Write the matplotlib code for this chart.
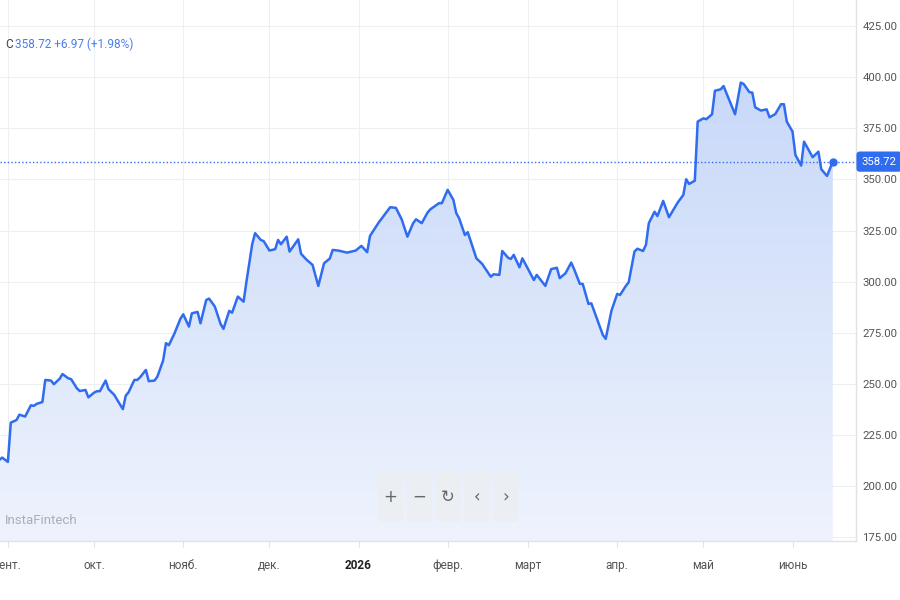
import matplotlib
matplotlib.use('Agg')
import matplotlib.pyplot as plt
import numpy as np
import pandas as pd
from matplotlib.colors import LinearSegmentedColormap
from matplotlib.patches import FancyBboxPatch
from matplotlib.transforms import Bbox

# price path (date, close)
dates = [
    '2025-08-29', '2025-08-30', '2025-09-01', '2025-09-02', '2025-09-04', '2025-09-05',
    '2025-09-07', '2025-09-09', '2025-09-10', '2025-09-11', '2025-09-13', '2025-09-14',
    '2025-09-16', '2025-09-17', '2025-09-19', '2025-09-20', '2025-09-22', '2025-09-23',
    '2025-09-25', '2025-09-26', '2025-09-28', '2025-09-29',
    '2025-10-01', '2025-10-02', '2025-10-03', '2025-10-05', '2025-10-06', '2025-10-08',
    '2025-10-11', '2025-10-12', '2025-10-13', '2025-10-15', '2025-10-16', '2025-10-17',
    '2025-10-19', '2025-10-20', '2025-10-22', '2025-10-23', '2025-10-25', '2025-10-26',
    '2025-10-27', '2025-10-29', '2025-10-31',
    '2025-11-01', '2025-11-03', '2025-11-04', '2025-11-06', '2025-11-07', '2025-11-09',
    '2025-11-10', '2025-11-12', '2025-11-14', '2025-11-15', '2025-11-17', '2025-11-18',
    '2025-11-20', '2025-11-22', '2025-11-23', '2025-11-25', '2025-11-26', '2025-11-28',
    '2025-11-29',
    '2025-12-01', '2025-12-03', '2025-12-04', '2025-12-05', '2025-12-07', '2025-12-08',
    '2025-12-11', '2025-12-12', '2025-12-14', '2025-12-16', '2025-12-18', '2025-12-20',
    '2025-12-22', '2025-12-23', '2025-12-25', '2025-12-28', '2025-12-31',
    '2026-01-02', '2026-01-04', '2026-01-05', '2026-01-08', '2026-01-12', '2026-01-14',
    '2026-01-16', '2026-01-18', '2026-01-20', '2026-01-21', '2026-01-23', '2026-01-25',
    '2026-01-26', '2026-01-29', '2026-01-30',
    '2026-02-01', '2026-02-03', '2026-02-04', '2026-02-05', '2026-02-07', '2026-02-08',
    '2026-02-11', '2026-02-13', '2026-02-16', '2026-02-17', '2026-02-19', '2026-02-20',
    '2026-02-22', '2026-02-23', '2026-02-24', '2026-02-26', '2026-02-27',
    '2026-03-03', '2026-03-04', '2026-03-07', '2026-03-09', '2026-03-11', '2026-03-12',
    '2026-03-14', '2026-03-16', '2026-03-17', '2026-03-19', '2026-03-20', '2026-03-22',
    '2026-03-23', '2026-03-27', '2026-03-28', '2026-03-30',
    '2026-04-01', '2026-04-02', '2026-04-04', '2026-04-05', '2026-04-07', '2026-04-08',
    '2026-04-10', '2026-04-11', '2026-04-12', '2026-04-14', '2026-04-15', '2026-04-17',
    '2026-04-19', '2026-04-21', '2026-04-22', '2026-04-24', '2026-04-25', '2026-04-26',
    '2026-04-28', '2026-04-29',
    '2026-05-01', '2026-05-02', '2026-05-04', '2026-05-05', '2026-05-07', '2026-05-08',
    '2026-05-12', '2026-05-14', '2026-05-15', '2026-05-17', '2026-05-18', '2026-05-19',
    '2026-05-21', '2026-05-23', '2026-05-24', '2026-05-26', '2026-05-28', '2026-05-29',
    '2026-05-30',
    '2026-06-01', '2026-06-02', '2026-06-04', '2026-06-05', '2026-06-08', '2026-06-10',
    '2026-06-11', '2026-06-13', '2026-06-15',
]
prices = [
    212.8, 213.9, 211.8, 231.0, 232.3, 234.9,
    234.0, 239.5, 239.2, 240.2, 241.1, 251.9,
    251.6, 249.8, 252.5, 254.8, 252.7, 252.3,
    247.8, 246.5, 247.0, 243.4,
    245.7, 246.4, 246.4, 251.6, 247.4, 244.6,
    237.6, 244.2, 245.9, 251.9, 251.9, 253.2,
    256.8, 251.3, 251.6, 253.5, 261.4, 269.9,
    268.9, 274.8, 281.8,
    284.0, 278.0, 284.5, 285.2, 279.6, 291.0,
    291.7, 287.8, 279.3, 276.9, 285.7, 284.8,
    292.7, 290.2, 300.0, 318.3, 323.7, 320.4,
    319.8,
    315.2, 315.9, 320.4, 318.3, 322.0, 314.7,
    320.7, 313.6, 310.6, 308.2, 297.9, 309.0,
    311.3, 315.5, 315.2, 314.2, 315.2,
    317.5, 314.4, 322.4, 328.9, 336.4, 336.1,
    330.5, 322.0, 328.6, 330.5, 328.6, 333.8,
    335.4, 338.4, 338.4,
    344.9, 340.0, 333.5, 331.0, 322.8, 324.2,
    311.4, 308.7, 302.4, 303.6, 303.3, 315.0,
    311.7, 311.1, 313.1, 307.0, 311.4,
    300.8, 303.3, 297.9, 306.1, 306.8, 301.7,
    304.1, 309.3, 306.1, 298.9, 298.9, 289.1,
    289.4, 273.9, 272.0, 285.8,
    294.0, 293.5, 297.9, 299.7, 314.7, 316.1,
    315.0, 318.0, 328.6, 334.2, 332.1, 339.5,
    331.5, 336.2, 338.6, 342.4, 350.1, 347.8,
    349.4, 378.3,
    379.9, 379.5, 381.9, 393.4, 394.1, 395.7,
    381.9, 397.4, 396.7, 392.7, 392.5, 385.3,
    383.7, 384.3, 380.4, 382.0, 386.8, 386.8,
    378.3,
    373.4, 362.0, 356.8, 368.5, 360.9, 363.6,
    355.0, 351.7, 358.72,
]

month_ticks = ['2025-09-01', '2025-10-01', '2025-11-01', '2025-12-01', '2026-01-01',
               '2026-02-01', '2026-03-01', '2026-04-01', '2026-05-01', '2026-06-01']
month_labels = ['сент.', 'окт.', 'нояб.', 'дек.', '2026', 'февр.', 'март', 'апр.', 'май', 'июнь']
y_ticks = [175, 200, 225, 250, 275, 300, 325, 350, 375, 400, 425]
change, change_pct = 6.97, 1.98
buttons = ['+', '−', '↻', '‹', '›']

blue = '#2f6cf0'
font = ['Roboto', 'DejaVu Sans']

x = pd.to_datetime(dates)
last = prices[-1]

fig = plt.figure(figsize=(9, 6), dpi=100)
ax = fig.add_axes([0, 59 / 600, 856 / 900, 541 / 600])

ax.plot(x, prices, color=blue, lw=1.8, solid_joinstyle='round', zorder=4)
ax.plot(x[-1:], prices[-1:], 'o', color=blue, ms=5, zorder=5)
ax.axhline(last, color=blue, lw=1, ls=(0, (1, 1.6)), zorder=3)

# gradient area under the line
ymin, ymax = 173.1, 437.8
poly = ax.fill_between(x, prices, ymin, color='none', lw=0)
cmap = LinearSegmentedColormap.from_list('fade', ['#eef3fd', '#c2d4f8'])
grad = np.linspace(0, 1, 256).reshape(-1, 1)
img = ax.imshow(grad, extent=[0, 1, 0, 1], transform=ax.transAxes, aspect='auto',
                origin='lower', cmap=cmap, zorder=1)
img.set_clip_path(poly.get_paths()[0], transform=ax.transData)

ax.set_xlim(pd.Timestamp('2025-08-29 06:00'), pd.Timestamp('2026-06-23 02:00'))
ax.set_ylim(ymin, ymax)

ax.set_xticks(pd.to_datetime(month_ticks))
ax.set_xticklabels(month_labels, family=font, fontsize=8.5, color='#555')
for lab in ax.get_xticklabels():
    if lab.get_text() == '2026':
        lab.set_fontweight('bold')
        lab.set_color('#222')

ax.yaxis.tick_right()
ax.set_yticks(y_ticks)
ax.set_yticklabels([f'{v:.2f}' for v in y_ticks], family=font, fontsize=8.2, color='#555')
# the bottom label is cut by the time scale in the original
for lab in ax.get_yticklabels():
    lab.set_clip_on(True)
    lab.set_clip_box(Bbox([[0, 59], [900, 600]]))

ax.tick_params(axis='x', length=4, color='#dfe3e8', pad=9)
ax.tick_params(axis='y', length=0, pad=4.5)
ax.grid(color='#edf0f3', lw=0.8, zorder=0)
ax.set_axisbelow(True)
for s in ['top', 'left']:
    ax.spines[s].set_visible(False)
for s in ['right', 'bottom']:
    ax.spines[s].set_color('#dfe3e8')
    ax.spines[s].set_linewidth(1)

# price tag on the scale
ax.text(1.0065, last, f'{last:.2f}', transform=ax.get_yaxis_transform(), ha='left', va='center',
        color='white', fontsize=8.2, family=font, clip_on=False, zorder=6,
        bbox=dict(boxstyle='round,pad=0.45,rounding_size=0.3', fc=blue, ec='none'))

# header
fig.text(5 / 900, 1 - 44 / 600, 'C', color='#444', fontsize=8.5, family=font, va='center')
fig.text(15 / 900, 1 - 44 / 600, f'{last:.2f} +{change:.2f} (+{change_pct:.2f}%)',
         color='#4a7cf0', fontsize=8.5, family=font, va='center')

# watermark
fig.text(5 / 900, 1 - 521 / 600, 'InstaFintech', color='#a9aeb6', fontsize=9.5,
         family=font, va='center')

# zoom buttons
for i, sym in enumerate(buttons):
    x0 = 378 + i * 28.8
    fig.add_artist(FancyBboxPatch((x0 / 900, 1 - 522 / 600), 25 / 900, 51 / 600,
                                  boxstyle='round,pad=0,rounding_size=0.006',
                                  transform=fig.transFigure, fc='#eceef2', ec='none',
                                  alpha=0.9, zorder=7))
    fig.text((x0 + 12.5) / 900, 1 - 497 / 600, sym, ha='center', va='center',
             color='#666', fontsize=12, zorder=8)

fig.savefig('out.png', dpi=100)
